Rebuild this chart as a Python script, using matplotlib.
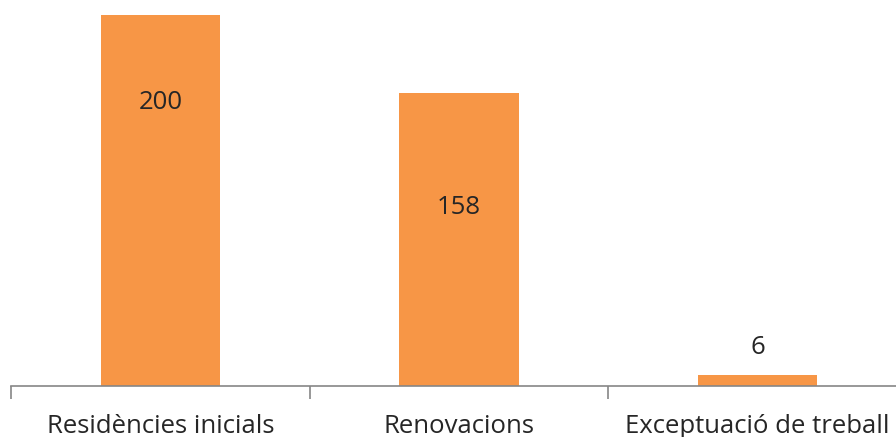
import matplotlib
matplotlib.use('Agg')
import matplotlib.pyplot as plt

# dades del gràfic
categories = ['Residències inicials', 'Renovacions', 'Exceptuació de treball']
values = [200, 158, 6]
label_y = [152.5, 96, 20.5]  # on va cada etiqueta

plt.rcParams['font.family'] = ['Open Sans', 'DejaVu Sans']

fig = plt.figure(figsize=(8.96, 4.37), dpi=100)
# l'eix surt una mica per la dreta, com a l'original
ax = fig.add_axes([11 / 896, 51 / 437, 896 / 896, 386 / 437])

x = range(len(categories))
ax.bar(x, values, width=0.4, color='#F79646', zorder=2)

for i, v in enumerate(values):
    ax.text(i, label_y[i], str(v), ha='center', va='center', fontsize=18.5, color='#262626')

ax.set_xlim(-0.5, 2.5)
ax.set_ylim(0, 208)

for s in ['top', 'right', 'left']:
    ax.spines[s].set_visible(False)
ax.spines['bottom'].set_color('#868686')
ax.spines['bottom'].set_linewidth(1.2)

ax.set_yticks([])
ax.set_xticks(list(x))
ax.set_xticklabels(categories, fontsize=18.5, color='#262626')
ax.tick_params(axis='x', which='major', length=0, pad=20)
ax.set_xticks([-0.5, 0.5, 1.5, 2.5], minor=True)
ax.tick_params(axis='x', which='minor', length=9, width=1.2, color='#868686')

fig.savefig('out.png', dpi=100)
